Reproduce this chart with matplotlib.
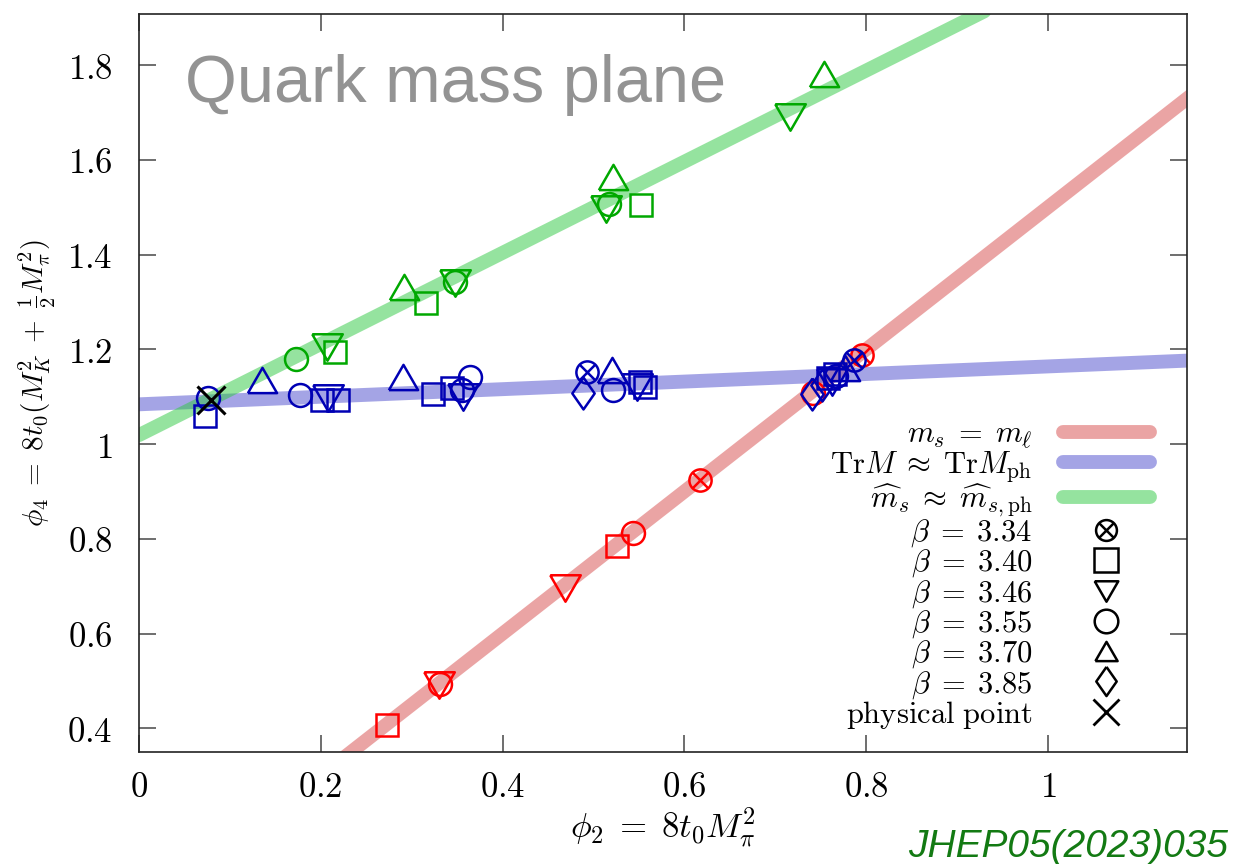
import numpy as np
import matplotlib
matplotlib.use("Agg")
import matplotlib.pyplot as plt
from matplotlib.lines import Line2D
from matplotlib.ticker import FuncFormatter

plt.rcParams['mathtext.fontset'] = 'cm'

# fit lines: phi4 = a + b*phi2
line_names = [r'$m_s\;=\;m_\ell$',
              r'$\mathrm{Tr}M\;\approx\;\mathrm{Tr}M_{\mathrm{ph}}$',
              r'$\widehat{m}_s\;\approx\;\widehat{m}_{s,\mathrm{ph}}$']
line_a = [0.0, 1.084, 1.019]
line_b = [1.5, 0.080, 0.962]
line_xrange = [(0.2, 1.16), (0.0, 1.16), (0.0, 0.93)]

# data points, beta value per point
betas = ['3.34', '3.40', '3.46', '3.55', '3.70', '3.85']

red_x = [0.273, 0.330, 0.331, 0.469, 0.526, 0.543, 0.617, 0.741, 0.795]
red_y = [0.406, 0.491, 0.493, 0.696, 0.784, 0.812, 0.924, 1.108, 1.188]
red_b = ['3.40', '3.46', '3.55', '3.46', '3.40', '3.55', '3.34', '3.55', '3.34']

blue_x = [0.073, 0.076, 0.135, 0.177, 0.201, 0.208, 0.219, 0.290, 0.323, 0.344,
          0.355, 0.356, 0.364, 0.493, 0.488, 0.520, 0.521, 0.551, 0.557, 0.548,
          0.740, 0.751, 0.758, 0.766, 0.767, 0.762, 0.777, 0.787]
blue_y = [1.059, 1.097, 1.135, 1.103, 1.093, 1.097, 1.093, 1.141, 1.105, 1.118,
          1.114, 1.099, 1.141, 1.152, 1.107, 1.156, 1.114, 1.131, 1.120, 1.120,
          1.105, 1.124, 1.139, 1.148, 1.143, 1.131, 1.160, 1.177]
blue_b = ['3.40', '3.55', '3.70', '3.55', '3.40', '3.46', '3.40', '3.70', '3.40', '3.40',
          '3.55', '3.46', '3.55', '3.34', '3.85', '3.70', '3.55', '3.40', '3.40', '3.46',
          '3.85', '3.85', '3.40', '3.40', '3.55', '3.46', '3.70', '3.34']

green_x = [0.173, 0.207, 0.216, 0.292, 0.316, 0.348, 0.348, 0.521, 0.517, 0.514,
           0.552, 0.716, 0.754]
green_y = [1.179, 1.205, 1.194, 1.331, 1.297, 1.342, 1.340, 1.564, 1.507, 1.496,
           1.504, 1.690, 1.781]
green_b = ['3.55', '3.46', '3.40', '3.70', '3.40', '3.55', '3.46', '3.70', '3.55', '3.46',
           '3.40', '3.46', '3.70']

phys_x = [0.079]
phys_y = [1.093]

line_colors = ['#d74b4b', '#4b4bcd', '#2dc941']
point_colors = ['#ff0000', '#0000b4', '#00a800']

tri_up = [(-1, -0.866), (1, -0.866), (0, 0.866), (-1, -0.866)]
tri_dn = [(-1, 0.866), (1, 0.866), (0, -0.866), (-1, 0.866)]
diam = [(0, 1), (0.7, 0), (0, -1), (-0.7, 0), (0, 1)]
marker_of = {'3.34': 'o', '3.40': 's', '3.46': tri_dn, '3.55': 'o', '3.70': tri_up, '3.85': diam}
size_of = {'3.34': 16, '3.40': 16, '3.46': 22, '3.55': 16.5, '3.70': 21, '3.85': 23}

fig = plt.figure(figsize=(12.33, 8.64), dpi=100)
ax = fig.add_axes([139/1233, 112/864, 1048/1233, 738/864])

for a, b, (x0, x1), c in zip(line_a, line_b, line_xrange, line_colors):
    xx = np.array([x0, x1])
    ax.plot(xx, a + b*xx, color=c, alpha=0.5, lw=10, solid_capstyle='round', zorder=1)

def draw_points(xs, ys, bs, col):
    for beta in betas:
        px = [x for x, bb in zip(xs, bs) if bb == beta]
        py = [y for y, bb in zip(ys, bs) if bb == beta]
        if not px:
            continue
        ax.plot(px, py, ls='none', marker=marker_of[beta], ms=size_of[beta],
                mfc='none', mec=col, mew=1.8, zorder=3)
        if beta == '3.34':
            ax.plot(px, py, ls='none', marker='x', ms=11.5, mec=col, mew=1.8, zorder=3)

draw_points(red_x, red_y, red_b, point_colors[0])
draw_points(blue_x, blue_y, blue_b, point_colors[1])
draw_points(green_x, green_y, green_b, point_colors[2])
ax.plot(phys_x, phys_y, ls='none', marker='x', ms=20, mec='black', mew=2.2, zorder=4)

ax.set_xlim(0, 1.153)
ax.set_ylim(0.35, 1.908)
ax.set_xticks([0, 0.2, 0.4, 0.6, 0.8, 1])
ax.set_yticks([0.4, 0.6, 0.8, 1, 1.2, 1.4, 1.6, 1.8])
fmt = FuncFormatter(lambda v, p: f'${v:g}$')
ax.xaxis.set_major_formatter(fmt)
ax.yaxis.set_major_formatter(fmt)
ax.tick_params(direction='in', length=12, width=1.2, color='#555555',
               top=True, right=True, labelsize=25)
ax.tick_params(axis='y', pad=19)
ax.tick_params(axis='x', pad=13)
for s in ax.spines.values():
    s.set_linewidth(1.2)
    s.set_color('#222222')

ax.set_xlabel(r'$\phi_2\;=\;8t_0M_\pi^2$', fontsize=25, labelpad=1)
ax.set_ylabel(r'$\phi_4\;=\;8t_0(M_K^2\;+\;\frac{1}{2}M_\pi^2)$', fontsize=21, labelpad=7)

ax.text(0.044, 0.881, 'Quark mass plane', transform=ax.transAxes, fontsize=48,
        color='#939393', family='Liberation Sans', va='baseline')
fig.text(1228/1233, 7/864, 'JHEP05(2023)035', ha='right', va='baseline',
         fontsize=28, style='italic', color='#137a13', family='Liberation Sans')

# legend proxies
handles = [Line2D([], [], color=c, alpha=0.5, lw=10, solid_capstyle='round')
           for c in line_colors]
labels = list(line_names)
leg_size = {'3.34': 15, '3.40': 17, '3.46': 17, '3.55': 17, '3.70': 16, '3.85': 21}
for beta in betas:
    h = Line2D([], [], ls='none', marker=marker_of[beta], ms=leg_size[beta],
               mfc='none', mec='black', mew=1.8)
    if beta == '3.34':
        h = (h, Line2D([], [], ls='none', marker='x', ms=10.5, mec='black', mew=1.8))
    handles.append(h)
    labels.append(r'$\beta\;=\;%s$' % beta)
handles.append(Line2D([], [], ls='none', marker='x', ms=19, mec='black', mew=2))
labels.append(r'$\mathrm{physical\ point}$')

leg = ax.legend(handles, labels, loc='lower right', bbox_to_anchor=(1150/1233, 133/864),
                bbox_transform=fig.transFigure, frameon=False, markerfirst=False,
                fontsize=22, labelspacing=-0.05, handlelength=2.85, handletextpad=1.0,
                borderpad=0, borderaxespad=0)

fig.savefig('out.png', dpi=100)
